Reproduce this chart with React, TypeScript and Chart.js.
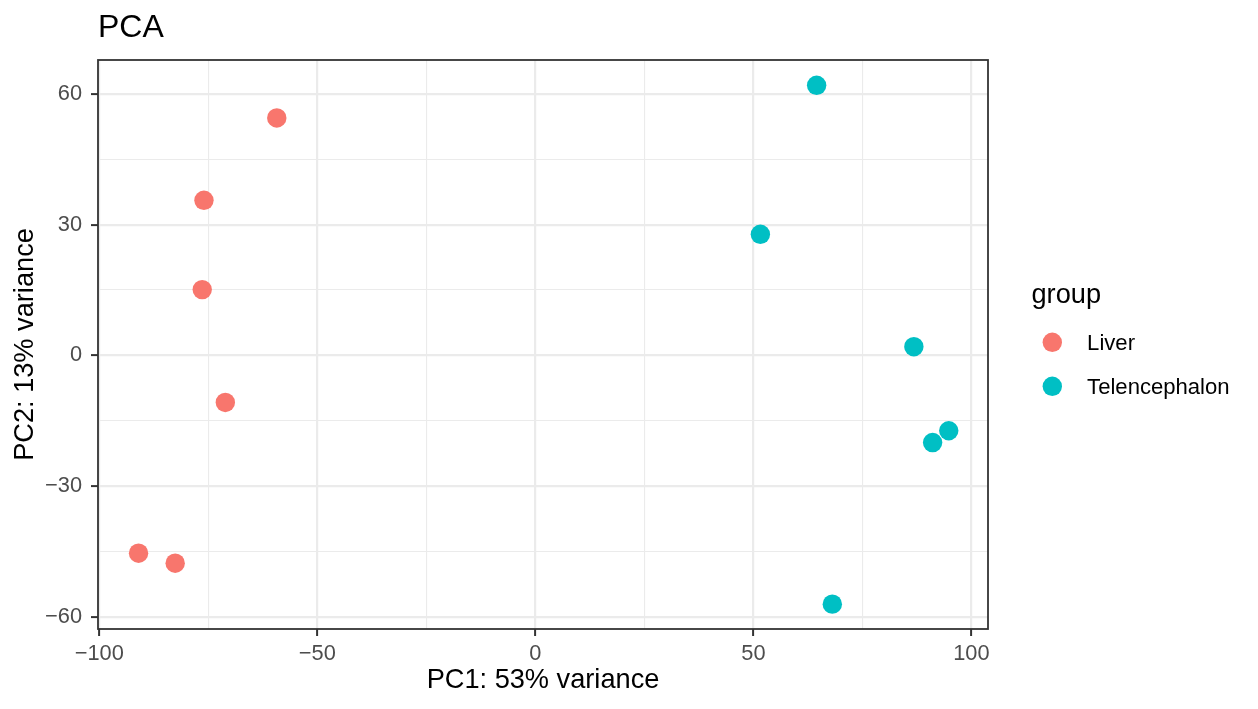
import React, { useEffect, useRef } from 'react';
import { Chart, registerables } from 'chart.js';

Chart.register(...registerables);

const FONT = "'Liberation Sans', Arial, Helvetica, sans-serif";

// ---- data ----
const groups = ['Liver', 'Telencephalon'];
const groupColors = ['#F8766D', '#00BFC4'];
const liverPC1 = [-59.3, -76.0, -76.4, -71.1, -91.0, -82.6];
const liverPC2 = [54.5, 35.6, 15.1, -10.8, -45.4, -47.7];
const telPC1 = [64.5, 51.6, 86.8, 94.8, 91.1, 68.1];
const telPC2 = [62.0, 27.8, 2.0, -17.3, -20.0, -57.1];
const xTicks = [-100, -75, -50, -25, 0, 25, 50, 75, 100];
const xMajor = [-100, -50, 0, 50, 100];
const yTicks = [-60, -45, -30, -15, 0, 15, 30, 45, 60];
const yMajor = [-60, -30, 0, 30, 60];
const xRange = [-100.3, 103.8];
const yRange = [-62.8, 67.8];
const titleText = 'PCA';
const xTitle = 'PC1: 53% variance';
const yTitle = 'PC2: 13% variance';
const legendTitle = 'group';

const fmt = (v: number) => (v < 0 ? '\u2212' + Math.abs(v) : String(v));

const panelAndLegend = {
  id: 'panelAndLegend',
  afterDatasetsDraw(chart: any) {
    const { ctx, chartArea: a } = chart;
    ctx.save();
    ctx.strokeStyle = '#333333';
    ctx.lineWidth = 1.8;
    ctx.strokeRect(a.left, a.top, a.right - a.left, a.bottom - a.top);

    const lx = a.right + 43.5;
    ctx.textAlign = 'left';
    ctx.textBaseline = 'alphabetic';
    ctx.fillStyle = '#000000';
    ctx.font = `27.2px ${FONT}`;
    ctx.fillText(legendTitle, lx, 303);
    groups.forEach((g, i) => {
      const cy = 342.3 + i * 44;
      ctx.beginPath();
      ctx.arc(lx + 20.8, cy, 9.7, 0, Math.PI * 2);
      ctx.fillStyle = groupColors[i];
      ctx.fill();
      ctx.fillStyle = '#000000';
      ctx.font = `22.1px ${FONT}`;
      ctx.fillText(g, lx + 55.6, cy + 7.8);
    });
    ctx.restore();
  },
};

export default function App() {
  const ref = useRef<HTMLCanvasElement | null>(null);

  useEffect(() => {
    if (!ref.current) return;
    const seriesX = [liverPC1, telPC1];
    const seriesY = [liverPC2, telPC2];
    const chart = new Chart(ref.current, {
      type: 'scatter',
      data: {
        datasets: groups.map((g, i) => ({
          label: g,
          data: seriesX[i].map((x, j) => ({ x, y: seriesY[i][j] })),
          backgroundColor: groupColors[i],
          borderColor: groupColors[i],
          borderWidth: 0,
          pointRadius: 9.7,
          pointHoverRadius: 9.7,
        })),
      },
      options: {
        responsive: false,
        animation: false,
        devicePixelRatio: 1,
        layout: { padding: { left: 0, right: 270, top: 0, bottom: 0 } },
        plugins: {
          legend: { display: false },
          tooltip: { enabled: false },
          title: {
            display: true,
            text: titleText,
            align: 'start',
            fullSize: false,
            color: '#000000',
            font: { family: FONT, size: 32, weight: 'normal', lineHeight: 1.2 },
            padding: { top: 9.2, bottom: 12.4 },
          },
        },
        scales: {
          x: {
            type: 'linear',
            min: xRange[0],
            max: xRange[1],
            afterBuildTicks: (s: any) => {
              s.ticks = xTicks.map((v) => ({ value: v }));
            },
            afterFit: (s: any) => {
              s.height = 80;
            },
            ticks: {
              autoSkip: false,
              maxRotation: 0,
              padding: 5,
              color: '#4D4D4D',
              font: { family: FONT, size: 21.8 },
              callback: (v: any) => (xMajor.includes(v) ? fmt(v) : ''),
            },
            grid: {
              color: '#EBEBEB',
              lineWidth: (c: any) => (xMajor.includes(c.tick?.value) ? 2.2 : 1.1),
              tickColor: (c: any) => (xMajor.includes(c.tick?.value) ? '#333333' : 'rgba(0,0,0,0)'),
              tickLength: 7,
              tickWidth: 2,
            },
            border: { display: false },
            title: {
              display: true,
              text: xTitle,
              color: '#000000',
              font: { family: FONT, size: 27.2, lineHeight: 1.2 },
              padding: { top: 0, bottom: 11.9 },
            },
          },
          y: {
            type: 'linear',
            min: yRange[0],
            max: yRange[1],
            afterBuildTicks: (s: any) => {
              s.ticks = yTicks.map((v) => ({ value: v }));
            },
            afterFit: (s: any) => {
              s.width = 98;
            },
            ticks: {
              autoSkip: false,
              padding: 9,
              color: '#4D4D4D',
              font: { family: FONT, size: 21.8 },
              callback: (v: any) => (yMajor.includes(v) ? fmt(v) : ''),
            },
            grid: {
              color: '#EBEBEB',
              lineWidth: (c: any) => (yMajor.includes(c.tick?.value) ? 2.2 : 1.1),
              tickColor: (c: any) => (yMajor.includes(c.tick?.value) ? '#333333' : 'rgba(0,0,0,0)'),
              tickLength: 7,
              tickWidth: 2,
            },
            border: { display: false },
            title: {
              display: true,
              text: yTitle,
              color: '#000000',
              font: { family: FONT, size: 27.2, lineHeight: 1.2 },
              padding: { top: 8.7, bottom: 0 },
            },
          },
        },
      },
      plugins: [panelAndLegend],
    } as any);
    return () => chart.destroy();
  }, []);

  return (
    <div style={{ position: 'absolute', left: 0, top: 0, width: 1258, height: 709, background: '#ffffff' }}>
      <canvas ref={ref} width={1258} height={709} style={{ display: 'block' }} />
    </div>
  );
}
